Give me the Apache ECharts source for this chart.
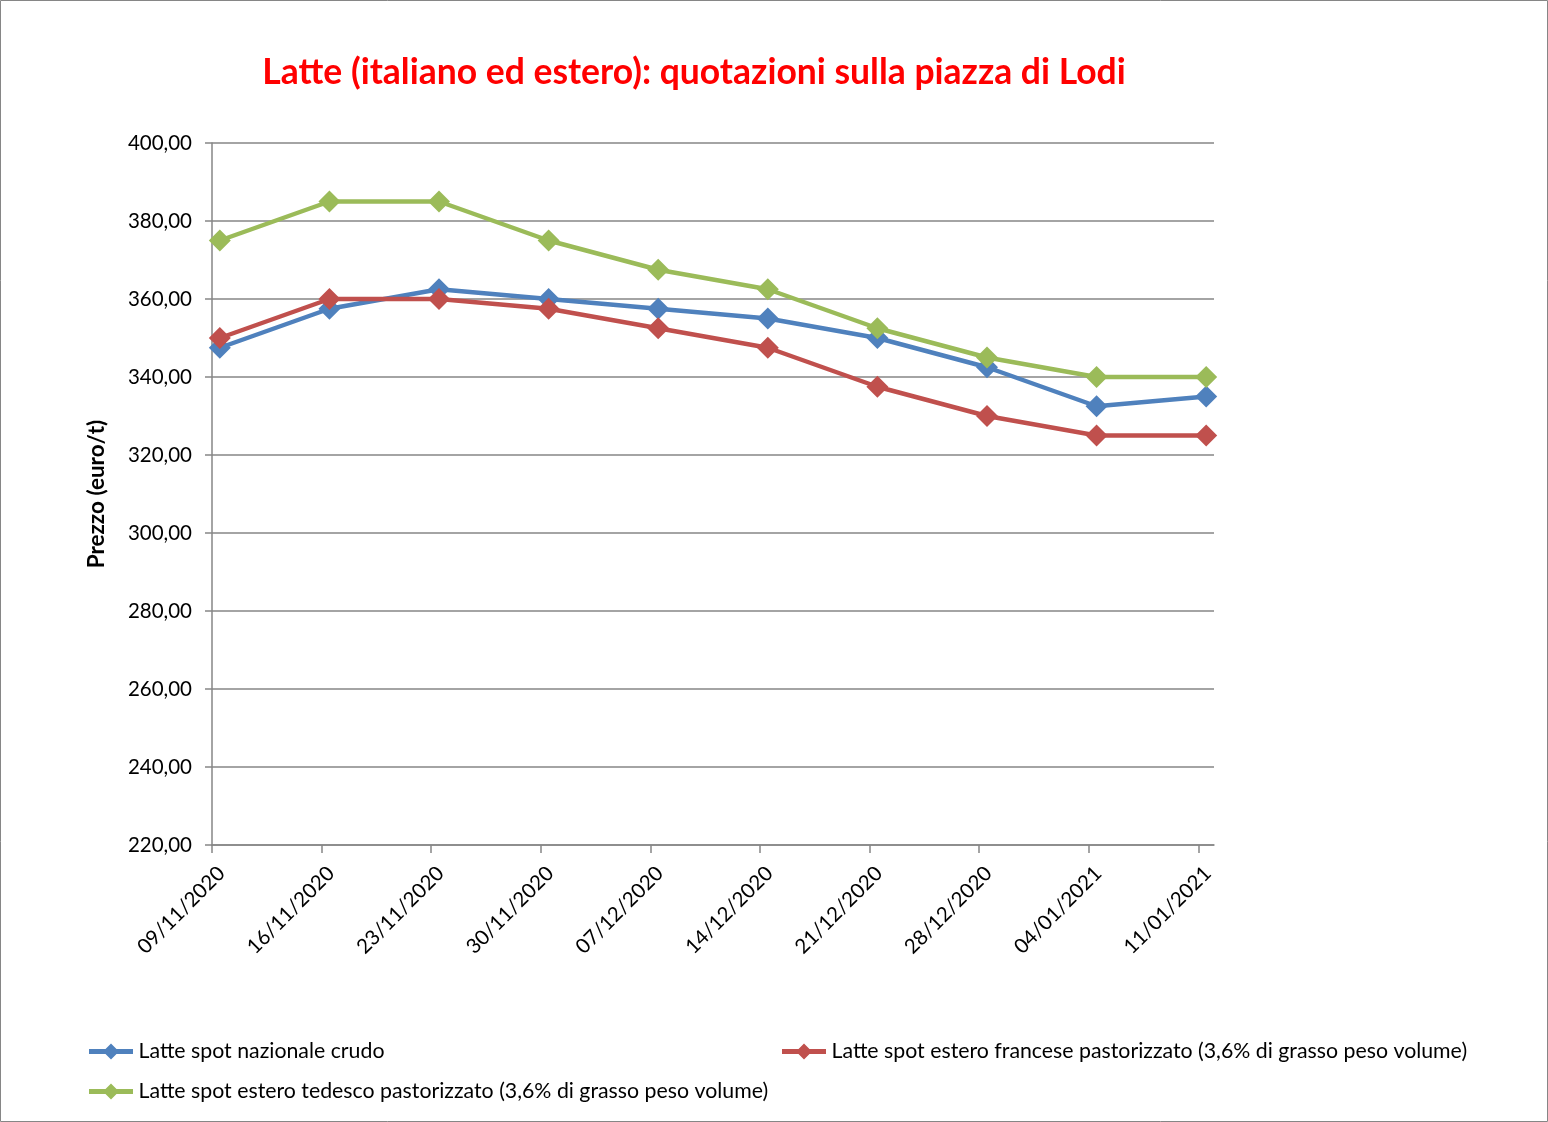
<!DOCTYPE html>
<html><head><meta charset="utf-8">
<script src="https://cdn.jsdelivr.net/npm/echarts@6/dist/echarts.min.js"></script>
<style>html,body{margin:0;padding:0;background:#fff}#c{width:1548px;height:1122px}</style>
</head><body><div id="c"></div>
<script>
const dates = ['09/11/2020','16/11/2020','23/11/2020','30/11/2020','07/12/2020','14/12/2020','21/12/2020','28/12/2020','04/01/2021','11/01/2021'];
const nazionaleCrudo = [347.5, 357.5, 362.5, 360, 357.5, 355, 350, 342.5, 332.5, 335];
const francesePast = [350, 360, 360, 357.5, 352.5, 347.5, 337.5, 330, 325, 325];
const tedescoPast = [375, 385, 385, 375, 367.5, 362.5, 352.5, 345, 340, 340];
const seriesNames = ['Latte spot nazionale crudo','Latte spot estero francese pastorizzato (3,6% di grasso peso volume)','Latte spot estero tedesco pastorizzato (3,6% di grasso peso volume)'];
const colors = ['#4F81BD','#C0504D','#9BBB59'];
const FONT = 'Lato';
const dayPos = dates.map((d,i)=>i*7);
const labelPos = dates.map((d,i)=>i*7+0.6);
function pts(arr){ return arr.map((v,i)=>[i*7+0.5, v]); }
const chart = echarts.init(document.getElementById('c'));
const mkSeries = (name, data, color) => ({
  name, type:'line', data: pts(data), color,
  lineStyle:{width:4.5, color}, itemStyle:{color},
  symbol:'diamond', symbolSize:22, showSymbol:true, animation:false
});
const legendBase = {orient:'horizontal',
  icon:'path://M0,5.5 L16.5,5.5 L22,0 L27.5,5.5 L44,5.5 L44,10.5 L27.5,10.5 L22,16 L16.5,10.5 L0,10.5 Z',
  itemWidth:45, itemHeight:16, itemGap:8,
  textStyle:{fontFamily:FONT, fontSize:21.3, color:'#000'}};
chart.setOption({
  animation:false,
  title:{text:'Latte (italiano ed estero): quotazioni sulla piazza di Lodi', left:689, textAlign:'center', top:50,
    textStyle:{fontFamily:FONT, fontSize:35.5, fontWeight:'bold', color:'#FF0000'}},
  graphic:[{type:'rect', shape:{x:0.5,y:0.5,width:1547,height:1121}, style:{fill:'none', stroke:'#868686', lineWidth:1}}],
  legend:[
    Object.assign({}, legendBase, {data:[seriesNames[0]], left:84, top:1036}),
    Object.assign({}, legendBase, {data:[seriesNames[1]], left:777, top:1036}),
    Object.assign({}, legendBase, {data:[seriesNames[2]], left:84, top:1076})
  ],
  grid:{left:212, right:334, top:143, bottom:277, containLabel:false},
  xAxis:{type:'value', min:0, max:64, interval:7,
    axisLine:{show:true, lineStyle:{color:'#868686', width:1.5}},
    axisTick:{show:true, length:8, customValues:dayPos, lineStyle:{color:'#868686', width:1.5}},
    splitLine:{show:false},
    axisLabel:{customValues:labelPos, rotate:45, margin:25, fontFamily:FONT, fontSize:20.5, color:'#000',
      formatter:v=>{const i=Math.round((v-0.6)/7); return dates[i]||'';}}
  },
  yAxis:{type:'value', min:220, max:400, interval:20,
    name:'Prezzo (euro/t)', nameLocation:'middle', nameGap:104, nameRotate:90,
    nameTextStyle:{fontFamily:FONT, fontSize:22.5, fontWeight:'bold', color:'#000'},
    axisLine:{show:true, lineStyle:{color:'#868686', width:1.5}},
    axisTick:{show:true, length:7, lineStyle:{color:'#868686', width:1.5}},
    splitLine:{show:true, lineStyle:{color:'#868686', width:1.5}},
    axisLabel:{margin:20, fontFamily:FONT, fontSize:20.5, color:'#000', formatter:v=>v.toFixed(2).replace('.',',')}
  },
  series:[
    mkSeries(seriesNames[0], nazionaleCrudo, colors[0]),
    mkSeries(seriesNames[1], francesePast, colors[1]),
    mkSeries(seriesNames[2], tedescoPast, colors[2])
  ]
});
</script></body></html>
